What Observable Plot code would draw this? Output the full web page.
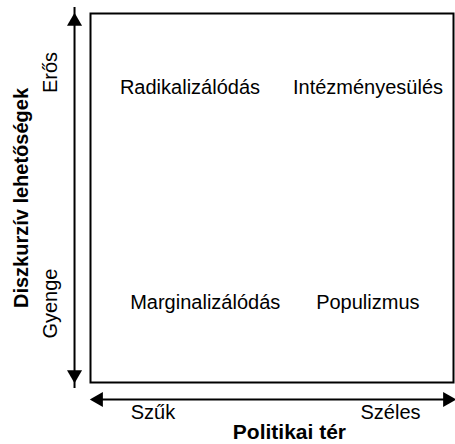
<!DOCTYPE html>
<html>
<head>
<meta charset="utf-8">
<script src="https://cdn.jsdelivr.net/npm/d3@7"></script>
<script src="https://cdn.jsdelivr.net/npm/@observablehq/plot@0.6"></script>
<style>
  html, body { margin: 0; padding: 0; background: #fff; }
  svg { display: block; }
</style>
</head>
<body>
<div id="chart"></div>
<script>
// Quadrant labels and their positions in the conceptual space [0,2] x [0,2]
const quadrantLabels = ["Radikalizálódás", "Intézményesülés", "Marginalizálódás", "Populizmus"];
const quadrantX = [0.548, 1.529, 0.632, 1.528];
const quadrantY = [1.596, 1.596, 0.431, 0.431];

// Axis end labels
const xTickLabels = ["Szűk", "Széles"];
const xTickPos = [0.344, 1.653];
const yTickLabels = ["Gyenge", "Erős"];
const yTickPos = [0.428, 1.680];

// Axis titles
const xTitle = "Politikai tér";
const yTitle = "Diszkurzív lehetőségek";

// Arrow axis positions
const vArrowX = -0.088;
const hArrowY = -0.092;
const hArrowEnd = 2.011;

const quads = quadrantLabels.map((t, i) => ({t, x: quadrantX[i], y: quadrantY[i]}));
const xTicks = xTickLabels.map((t, i) => ({t, x: xTickPos[i]}));
const yTicks = yTickLabels.map((t, i) => ({t, y: yTickPos[i]}));
const heads = [
  {x: vArrowX, y: 2, rotate: 0, dx: 0, dy: 8},
  {x: vArrowX, y: 0, rotate: 180, dx: 0, dy: -8},
  {x: 0, y: hArrowY, rotate: -90, dx: 8, dy: 0},
  {x: hArrowEnd, y: hArrowY, rotate: 90, dx: -8, dy: 0}
];

const font = "'Liberation Sans', Arial, Helvetica, sans-serif";

const chart = Plot.plot({
  width: 455,
  height: 444,
  marginLeft: 90,
  marginRight: 2,
  marginTop: 13,
  marginBottom: 62,
  x: {domain: [0, 2], axis: null},
  y: {domain: [0, 2], axis: null},
  style: {fontFamily: font, background: "#fff", color: "#000", overflow: "visible"},
  marks: [
    Plot.frame({stroke: "#000", strokeWidth: 2}),
    Plot.ruleX([vArrowX], {y1: 0, y2: 2, stroke: "#000", strokeWidth: 2, insetTop: 6, insetBottom: 6}),
    Plot.ruleY([hArrowY], {x1: 0, x2: hArrowEnd, stroke: "#000", strokeWidth: 2, insetLeft: 6, insetRight: 6}),
    ...heads.map(h => Plot.dot([h], {x: "x", y: "y", symbol: "triangle", r: 5.6, fill: "#000", stroke: "none", rotate: h.rotate, dx: h.dx, dy: h.dy})),
    Plot.text(quads, {x: "x", y: "y", text: "t", fontSize: 20, fill: "#000"}),
    Plot.text(xTicks, {x: "x", y: -0.163, text: "t", fontSize: 20, fill: "#000"}),
    Plot.text(yTicks, {x: -0.220, y: "y", text: "t", fontSize: 20, rotate: -90, fill: "#000"}),
    Plot.text([xTitle], {x: 1.096, y: -0.268, text: d => d, fontSize: 21, fontWeight: "bold", fill: "#000"}),
    Plot.text([yTitle], {x: -0.380, y: 1.0, text: d => d, fontSize: 20, fontWeight: "bold", rotate: -90, fill: "#000"})
  ]
});
document.getElementById("chart").appendChild(chart);
</script>
</body>
</html>
